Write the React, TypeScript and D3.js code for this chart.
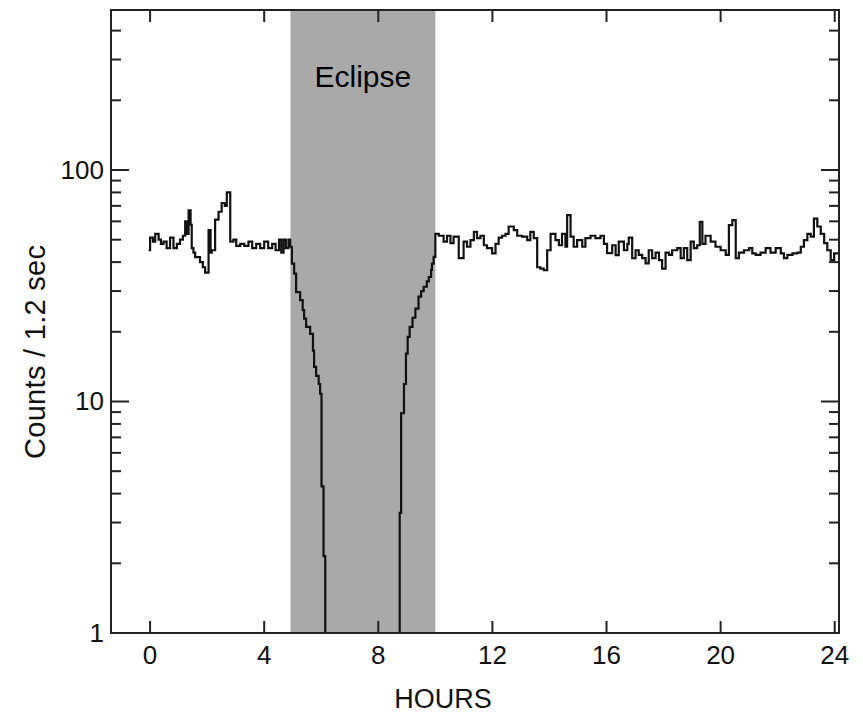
import React from 'react';
import * as d3 from 'd3';

// Light curve: each count holds from hours[i] until hours[i+1]
const hours = [
  -0.05, 0.0, 0.1, 0.18, 0.3, 0.38, 0.47, 0.58, 0.7, 0.82, 0.94, 1.05, 1.15, 1.23, 1.3, 1.35, 1.42, 1.46, 1.52, 1.58,
  1.75, 1.85, 1.93, 2.05, 2.12, 2.16, 2.28, 2.4, 2.51, 2.62, 2.69, 2.81, 2.92, 3.02, 3.16, 3.3, 3.45, 3.58, 3.72, 3.86,
  4.0, 4.14, 4.28, 4.4, 4.52, 4.6, 4.68, 4.76, 4.85,
  4.91, 4.97, 5.05, 5.12, 5.26, 5.35, 5.4, 5.47, 5.61, 5.71, 5.75, 5.82, 5.91, 5.96, 6.01, 6.08, 6.14,
  8.75, 8.8, 8.9, 8.97, 9.03, 9.1, 9.2, 9.3, 9.41, 9.5, 9.59, 9.7, 9.77, 9.85, 9.88, 9.94,
  10.0, 10.12, 10.29, 10.41, 10.53, 10.64, 10.82, 10.99, 11.11, 11.23, 11.35, 11.46, 11.58, 11.7, 11.81, 11.99,
  12.11, 12.22, 12.34, 12.46, 12.57, 12.75, 12.87, 13.04, 13.22, 13.33, 13.45, 13.57, 13.68, 13.8, 13.92,
  14.04, 14.21, 14.33, 14.44, 14.56, 14.62, 14.74, 14.85, 14.97, 15.15, 15.26, 15.44, 15.61, 15.79, 15.91,
  16.02, 16.2, 16.32, 16.43, 16.61, 16.73, 16.78, 16.9, 17.02, 17.13, 17.25, 17.37, 17.48, 17.6, 17.72, 17.84, 17.95,
  18.07, 18.19, 18.3, 18.48, 18.6, 18.71, 18.83, 18.95, 19.06, 19.18, 19.27, 19.36, 19.47, 19.65, 19.82,
  20.0, 20.18, 20.29, 20.41, 20.53, 20.64, 20.82, 21.0, 21.11, 21.23, 21.4, 21.58, 21.75, 21.93,
  22.11, 22.22, 22.34, 22.52, 22.69, 22.81, 22.92, 23.04, 23.16, 23.27, 23.39, 23.51, 23.63, 23.74, 23.86, 23.98, 24.14,
];
const counts = [
  45, 51, 49, 53, 50, 48, 49, 46, 51, 46, 48, 50, 52, 60, 53, 67, 58, 46, 44, 42,
  40, 38, 36, 55, 44, 45, 61, 66, 72, 70, 80, 49, 50, 47, 48, 47, 49, 46, 48, 46,
  49, 46, 48, 45, 50, 44, 50, 46, 50,
  46.6, 39.4, 35.7, 29.7, 27.4, 24.8, 22.8, 21.0, 19.6, 16.6, 14.1, 12.9, 11.9, 10.8, 4.3, 2.15, 1,
  3.3, 8.9, 11.9, 16.1, 19, 21, 23, 25.2, 28.4, 30, 31.3, 33, 34.5, 37, 39.4, 42.1,
  53, 52, 49, 52, 48.3, 51.5, 41.6, 49, 46.6, 49.8, 54, 50.8, 52, 47.3, 46, 43.6,
  48, 51, 52, 53, 57, 55, 52, 51.5, 49.8, 54, 50.8, 38, 37.5, 36.9, 45,
  53, 49.8, 47.3, 53, 46.6, 63.8, 51.5, 46.6, 49.8, 46.6, 50.8, 52, 50.8, 52, 48,
  43.7, 47.3, 42.9, 49, 45, 48, 51, 41.6, 45, 43, 41.6, 39.5, 45, 41.6, 44, 40.8, 37.5,
  44, 43, 45, 46, 41.6, 46, 40.8, 49, 46, 47.3, 59.7, 48, 52, 49, 46.6,
  45, 43, 57.8, 60.7, 41.6, 44, 45, 46, 43.6, 43, 44, 46, 44, 46,
  43.6, 41.6, 43, 43.6, 44, 46.6, 49.8, 53, 51.5, 61.7, 57, 53, 48.3, 45, 40.8, 43.6, 43.6,
];

const xTickValues = [0, 4, 8, 12, 16, 20, 24];
const xTickLabels = ['0', '4', '8', '12', '16', '20', '24'];
const yMajorValues = [1, 10, 100];
const yMajorLabels = ['1', '10', '100'];
const yMinorValues = [2, 3, 4, 5, 6, 7, 8, 9, 20, 30, 40, 50, 60, 70, 80, 90, 200, 300, 400];
const eclipseSpan = [4.92, 10.0];
const eclipseLabel = 'Eclipse';
const xTitle = 'HOURS';
const yTitle = 'Counts / 1.2 sec';

export default function App() {
  const W = 863;
  const H = 715;
  const left = 111, right = 839, top = 10, bottom = 633;
  const x = d3.scaleLinear().domain([-1.37, 24.15]).range([left, right]);
  const y = d3.scaleLog().domain([1, 491]).range([bottom, top]);
  const pts: [number, number][] = hours.map((h, i) => [h, counts[i]]);
  const line = d3
    .line<[number, number]>()
    .x((d) => x(d[0]))
    .y((d) => y(d[1]))
    .curve(d3.curveStepAfter);
  const font = "'Liberation Sans', Arial, sans-serif";
  const axisColor = '#222';
  const majorLen = 18, minorLen = 10, xTickLen = 12;

  return (
    <svg width={W} height={H} style={{ position: 'absolute', left: 0, top: 0, background: '#fff' }}>
      <rect x={0} y={0} width={W} height={H} fill="#fff" />
      <rect
        x={x(eclipseSpan[0])}
        y={top}
        width={x(eclipseSpan[1]) - x(eclipseSpan[0])}
        height={bottom - top}
        fill="#aaa9aa"
      />
      <text x={(x(eclipseSpan[0]) + x(eclipseSpan[1])) / 2} y={87} textAnchor="middle" fontFamily={font} fontSize={30} fill="#000">
        {eclipseLabel}
      </text>
      <path d={line(pts) || ''} fill="none" stroke="#111" strokeWidth={2.2} strokeLinejoin="miter" />
      {/* frame */}
      <rect x={left} y={top} width={right - left} height={bottom - top} fill="none" stroke={axisColor} strokeWidth={2} />
      {/* x ticks bottom and top */}
      {xTickValues.map((v, i) => (
        <g key={'xt' + i}>
          <line x1={x(v)} x2={x(v)} y1={bottom} y2={bottom - xTickLen} stroke={axisColor} strokeWidth={2} />
          <line x1={x(v)} x2={x(v)} y1={top} y2={top + xTickLen} stroke={axisColor} strokeWidth={2} />
          <text x={x(v)} y={664} textAnchor="middle" fontFamily={font} fontSize={26} fill="#111">
            {xTickLabels[i]}
          </text>
        </g>
      ))}
      {/* y ticks left and right */}
      {yMajorValues.map((v, i) => (
        <g key={'ym' + i}>
          <line x1={left} x2={left + majorLen} y1={y(v)} y2={y(v)} stroke={axisColor} strokeWidth={2} />
          <line x1={right} x2={right - majorLen} y1={y(v)} y2={y(v)} stroke={axisColor} strokeWidth={2} />
          <text x={104} y={y(v) + 9} textAnchor="end" fontFamily={font} fontSize={26} fill="#111">
            {yMajorLabels[i]}
          </text>
        </g>
      ))}
      {yMinorValues.map((v, i) => (
        <g key={'yn' + i}>
          <line x1={left} x2={left + minorLen} y1={y(v)} y2={y(v)} stroke={axisColor} strokeWidth={2} />
          <line x1={right} x2={right - minorLen} y1={y(v)} y2={y(v)} stroke={axisColor} strokeWidth={2} />
        </g>
      ))}
      <text x={(left + right) / 2 - 32} y={708} textAnchor="middle" fontFamily={font} fontSize={27} fill="#111">
        {xTitle}
      </text>
      <text
        transform="translate(45,352) rotate(-90)"
        textAnchor="middle"
        fontFamily={font}
        fontSize={29}
        fill="#111"
        textLength={214}
        lengthAdjust="spacing"
      >
        {yTitle}
      </text>
    </svg>
  );
}
